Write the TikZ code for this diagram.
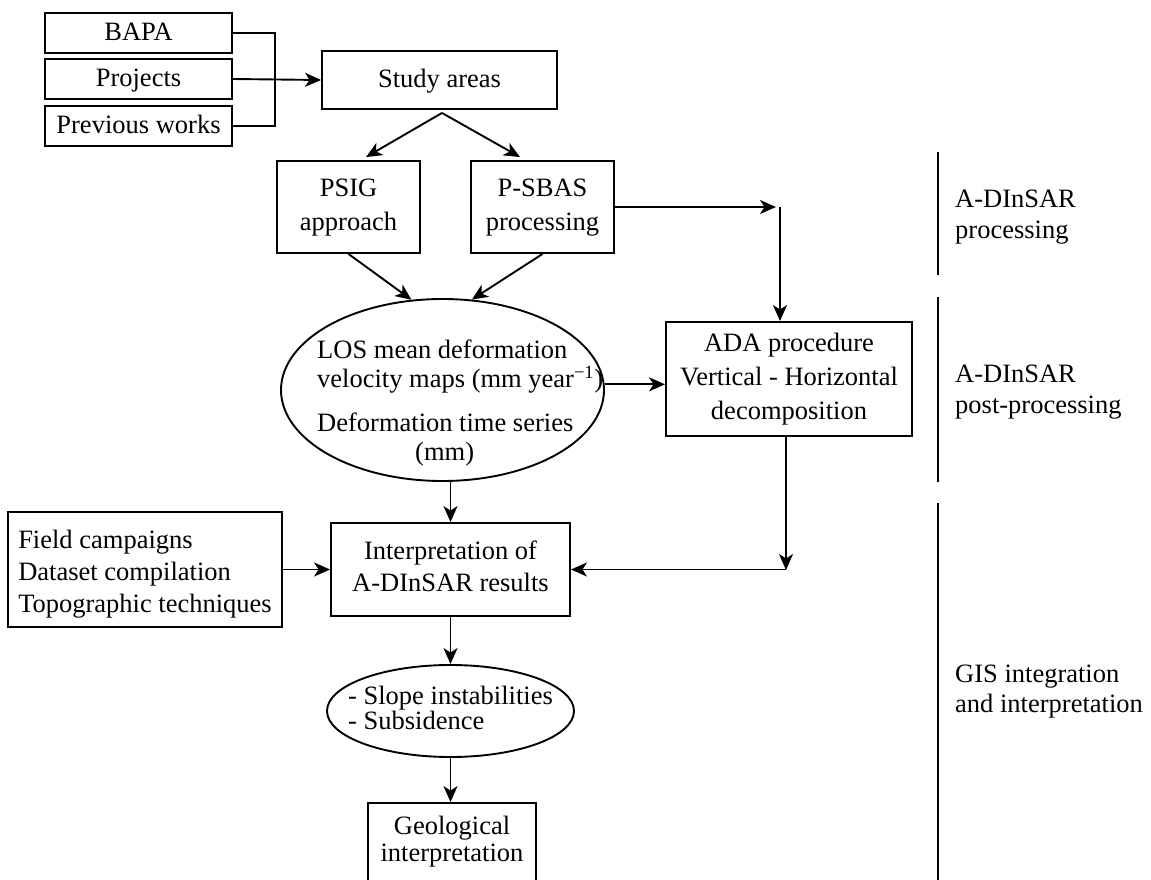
\documentclass[tikz,border=0pt]{standalone}
\usepackage{fontspec}
\setmainfont{Liberation Serif}
\usetikzlibrary{arrows.meta,shapes.geometric,calc}

% multi-line cell helpers
\newcommand{\mlc}[1]{\begin{tabular}{@{}c@{}}#1\end{tabular}}
\newcommand{\mll}[1]{\begin{tabular}{@{}l@{}}#1\end{tabular}}
\newcommand{\mlt}[1]{\begin{tabular}[t]{@{}l@{}}#1\end{tabular}}

\tikzset{
  fnt/.style={font=\fontsize{26.5}{#1}\selectfont},
  box/.style={draw, rectangle, line width=1.9pt, inner sep=0pt, fnt=32},
  one/.style={text height=17pt, text depth=2pt},
  oval/.style={draw, ellipse, line width=1.9pt, inner sep=0pt},
  conn/.style={line width=1.9pt},
  arr/.style={conn, -{Stealth[length=16pt,width=14pt,inset=4.5pt]}},
  sep/.style={line width=1.4pt},
  txt/.style={inner sep=0pt}
}

\begin{document}
\begin{tikzpicture}[x=1pt,y=-1pt]
\useasboundingbox (0,0) rectangle (1151,880);
\clip (0,0) rectangle (1151,880);

% sources
\node[box, one, minimum width=187pt, minimum height=40pt] (bapa) at (138.5,33) {BAPA};
\node[box, one, minimum width=187pt, minimum height=40pt] (proj) at (138.5,79) {Projects};
\node[box, one, minimum width=187pt, minimum height=40pt] (prev) at (138.5,126) {Previous works};
\node[box, one, minimum width=235pt, minimum height=58pt] (study) at (439.5,80) {Study areas};

% processing
\node[box, fnt=34, minimum width=143pt, minimum height=92pt] (psig) at (348.5,207) {\mlc{PSIG\\approach}};
\node[box, fnt=34, minimum width=143pt, minimum height=92pt] (psbas) at (542.5,207) {\mlc{P-SBAS\\processing}};

% products
\node[oval, minimum width=323pt, minimum height=182pt] (los) at (442.5,390) {};
\node[txt, fnt=29, anchor=base west] (lostxt) at (317,358)
  {\mlt{LOS mean deformation\\velocity maps (mm year\textsuperscript{−1})\\[15pt]Deformation time series\\\hspace*{98pt}(mm)}};
\node[box, fnt=34, minimum width=246pt, minimum height=114pt] (ada) at (789,379)
  {\mlc{ADA procedure\\Vertical - Horizontal\\decomposition}};

% interpretation
\node[box, minimum width=274pt, minimum height=115pt] (field) at (145,569.5)
  {\mll{\rule{0pt}{32.4pt}Field campaigns\\Dataset compilation\\Topographic techniques}};
\node[box, minimum width=239pt, minimum height=93pt] (interp) at (450.5,569.5)
  {\mlc{Interpretation of\\A-DInSAR results}};
\node[oval, minimum width=247pt, minimum height=92pt] (out) at (450.5,711) {};
\node[txt, fnt=23] (outtxt) at (out.center) {\mll{- Slope instabilities\\- Subsidence}};
\node[box, fnt=27, minimum width=168pt, minimum height=80pt] (geo) at (452,843)
  {\mlc{Geological\\interpretation}};

% connectors
\draw[conn] (bapa.east) -- ++(42,0) |- (prev.east);
\draw[arr] (proj.east) -- (study.west);
\coordinate (fork) at ($(study.south)+(2.5,3)$);
\draw[arr] (fork) -- ($(psig.north)+(17.5,-3)$);
\draw[arr] (fork) -- ($(psbas.north)+(-22.5,-3)$);
\draw[arr] (psig.south) -- (los.109);
\draw[arr] (psbas.south) -- (los.72);
\coordinate (c1) at (780,207);
\draw[arr] (psbas.east) -- ($(c1)+(-4,0)$);
\draw[arr] (c1) -- (c1 |- ada.north);
\draw[arr] (los.2) -- (los.2 -| ada.west);
\draw[arr] (los.south -| interp.north) -- (interp.north);
\coordinate (c2) at (786,570);
\draw[arr] (c2 |- ada.south) -- (c2);
\draw[arr] (interp.east -| c2) -- (interp.east);
\draw[arr] (field.east) -- (interp.west);
\draw[arr] (interp.south) -- (out.north);
\draw[arr] (out.south) -- (out.south |- geo.north);

% stage separators and labels
\draw[sep] (938,152) -- (938,275);
\draw[sep] (938,297) -- (938,482);
\draw[sep] (938,503) -- (938,880);
\node[txt, fnt=31, anchor=base west] (lab1) at (955,207) {\mlt{A-DInSAR\\processing}};
\node[txt, fnt=31, anchor=base west] (lab2) at (955,382) {\mlt{A-DInSAR\\post-processing}};
\node[txt, fnt=30, anchor=base west] (lab3) at (955,682) {\mlt{GIS integration\\and interpretation}};
\end{tikzpicture}
\end{document}
